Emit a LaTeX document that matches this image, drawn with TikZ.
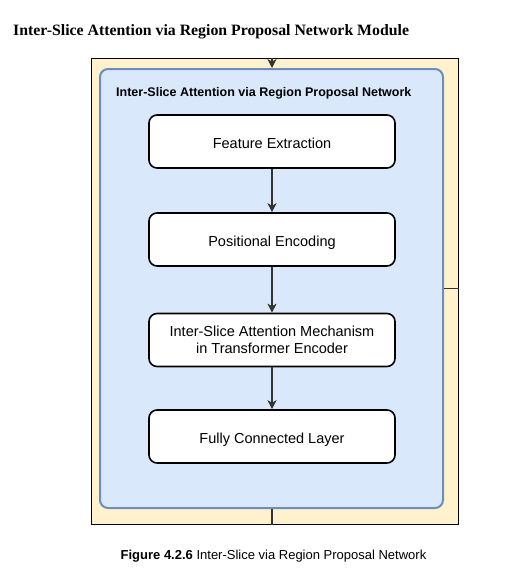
\documentclass[tikz,border=0pt]{standalone}
\usepackage{fontspec}
\setmainfont{Liberation Sans}
\newfontfamily\serifttl{Liberation Serif}
\usetikzlibrary{arrows.meta}
\definecolor{beige}{HTML}{FFF2CC}
\definecolor{bluefill}{HTML}{DAE8FC}
\definecolor{blueline}{HTML}{6C8EBF}
\tikzset{
  stepbox/.style={draw=black, line width=1.6pt, fill=white, rounded corners=8pt,
    minimum width=246pt, minimum height=53pt, inner sep=0pt, align=center,
    font=\fontsize{14.5}{17}\selectfont},
  oneline/.style={text height=13pt, text depth=0pt},
  arr/.style={draw=black!80, line width=1.3pt, -{Stealth[length=9pt,width=9pt,inset=2.5pt]}},
  plain/.style={draw=black!80, line width=1.3pt}
}
\begin{document}
\begin{tikzpicture}[x=1pt,y=-1pt]
\useasboundingbox (0,0) rectangle (518,581);
\node[anchor=base west, inner sep=0pt, font=\serifttl\bfseries\fontsize{15.8}{18}\selectfont] (title) at (13,35.5) {Inter-Slice Attention via Region Proposal Network Module};
\node[draw=black, line width=1pt, fill=beige, minimum width=367pt, minimum height=466pt, inner sep=0pt] (outer) at (274.5,291) {};
\node[draw=blueline, line width=2pt, fill=bluefill, rounded corners=8pt, minimum width=343pt, minimum height=439pt, inner sep=0pt] (blue) at (271.5,288.5) {};
\node[anchor=base west, inner sep=0pt, font=\bfseries\fontsize{12.5}{15}\selectfont] (btitle) at (116,96) {Inter-Slice Attention via Region Proposal Network};
\node[stepbox, oneline] (b1) at (272,141.5) {Feature Extraction};
\node[stepbox, oneline] (b2) at (272,239.5) {Positional Encoding};
\node[stepbox] (b3) at (272,340) {Inter-Slice Attention Mechanism\\in Transformer Encoder};
\node[stepbox, oneline] (b4) at (272,436.5) {Fully Connected Layer};
\coordinate (topin) at (272,58);
\draw[arr] (topin) -- (topin |- blue.north);
\draw[arr] (b1) -- (b2);
\draw[arr] (b2) -- (b3);
\draw[arr] (b3) -- (b4);
\draw[plain] (blue.east) -- (blue.east -| outer.east);
\draw[plain] (blue.south -| topin) -- (outer.south -| topin);
\node[anchor=base, inner sep=0pt, font=\fontsize{13}{15}\selectfont] (cap) at (273.5,559) {\textbf{Figure 4.2.6} Inter-Slice via Region Proposal Network};
\end{tikzpicture}
\end{document}
